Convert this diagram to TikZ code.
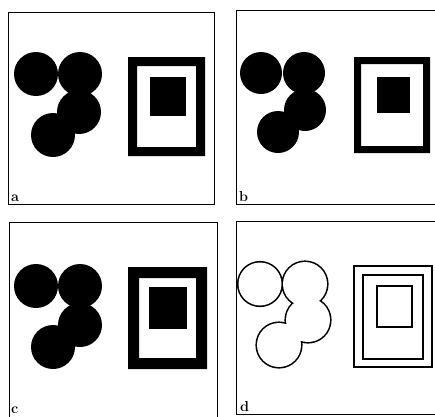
\documentclass[tikz,border=0pt]{standalone}
\usepackage{tikz}
\usetikzlibrary{positioning}

\begin{document}
\begin{tikzpicture}[
    x=1pt, y=-1pt,                          % pixel-like units, y downwards
    frame/.style={line width=0.8pt},        % thin panel border
    blob/.style={fill=black},               % solid disc / square
    ring/.style={fill=black, even odd rule},% thick rectangular ring
    edge/.style={line width=1.6pt},         % outline drawing (panel d)
    tag/.style={font=\Large\bfseries, inner sep=0pt, anchor=south west}
]
    \useasboundingbox (0,0) rectangle (435,416);
    \fill[white] (0,0) rectangle (435,416);

    % Panel a
    \draw[frame] (8,12) rectangle (214,204);
    \fill[blob] (36,74) circle[radius=22pt] (80,74) circle[radius=22pt]
                (79,112) circle[radius=22pt] (53,135) circle[radius=22pt];
    \fill[ring] (128,57) rectangle (205,156) (137,66) rectangle (196,147);
    \fill[blob] (150,77) rectangle (186,116);
    \node[tag] (taga) at (11,202) {a};

    % Panel b
    \draw[frame] (236,10) rectangle (440,204);
    \fill[blob] (261,73) circle[radius=21pt] (304,73) circle[radius=21pt]
                (305,110) circle[radius=21pt] (278,132) circle[radius=21pt];
    \fill[ring] (354,57) rectangle (430,153) (361,64) rectangle (423,146);
    \fill[blob] (377,77) rectangle (410,113);
    \node[tag] (tagb) at (239,202) {b};

    % Panel c
    \draw[frame] (9,222) rectangle (217,420);
    \fill[blob] (36,286) circle[radius=22pt] (80,286) circle[radius=22pt]
                (80,325) circle[radius=22pt] (53,347) circle[radius=22pt];
    \fill[ring] (128,267) rectangle (207,369) (139,278) rectangle (196,358);
    \fill[blob] (149,287) rectangle (187,329);
    \node[tag] (tagc) at (11,414) {c};

    % Panel d: outline of the union, then the three nested rectangles
    \draw[edge, line width=3.2pt] (260,284) circle[radius=21.5pt] (305,284) circle[radius=22pt]
                (308,320) circle[radius=22pt] (279,345) circle[radius=22pt];
    \fill[white] (260,284) circle[radius=21.5pt] (305,284) circle[radius=22pt]
                (308,320) circle[radius=22pt] (279,345) circle[radius=22pt];
    \draw[edge] (354,266) rectangle (432,367);
    \draw[edge] (363,275) rectangle (423,359);
    \draw[edge] (377,286) rectangle (412,327);
    \draw[frame] (236,221) rectangle (440,414);
    \node[tag] (tagd) at (240,412) {d};

\end{tikzpicture}
\end{document}
